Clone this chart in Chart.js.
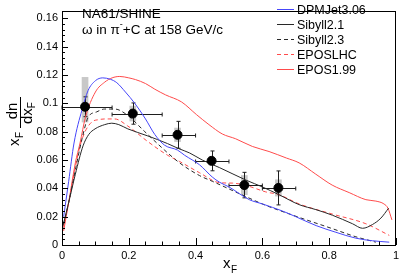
<!DOCTYPE html>
<html>
<head>
<meta charset="utf-8">
<script src="https://cdn.jsdelivr.net/npm/chart.js@4.4.1/dist/chart.umd.min.js"></script>
<style>
html, body { margin: 0; padding: 0; background: #fff; }
canvas { display: block; }
</style>
</head>
<body>
<canvas id="plot" width="403" height="274"></canvas>
<script>
// NA61/SHINE measured points
const binCenters = [0.069, 0.212, 0.346, 0.448, 0.546, 0.648];
const binLow = [0.0, 0.15, 0.30, 0.40, 0.50, 0.60];
const binHigh = [0.15, 0.30, 0.40, 0.50, 0.60, 0.70];
const na61Values = [0.0976, 0.0928, 0.0778, 0.0594, 0.0423, 0.0403];
const statErr = [0.007, 0.0075, 0.0095, 0.007, 0.009, 0.012];
const sysUp = [0.021, 0.0055, 0.005, 0.003, 0.007, 0.006];
const sysDown = [0.011, 0.0055, 0.005, 0.003, 0.007, 0.006];

// model curves
const dpmX = [0.005, 0.02, 0.036, 0.06, 0.078, 0.1, 0.122, 0.145, 0.164, 0.19, 0.218, 0.25, 0.278, 0.307, 0.346, 0.367, 0.412, 0.45, 0.472, 0.5, 0.561, 0.6, 0.66, 0.7, 0.761, 0.82, 0.88, 0.93, 0.98];
const dpmY = [0.02, 0.045, 0.072, 0.0955, 0.109, 0.116, 0.118, 0.117, 0.1146, 0.108, 0.1, 0.089, 0.078, 0.0705, 0.067, 0.0634, 0.0566, 0.048, 0.0443, 0.041, 0.032, 0.029, 0.024, 0.02, 0.0137, 0.009, 0.0048, 0.003, 0.002];

const sib21X = [0.003, 0.02, 0.04, 0.063, 0.08, 0.099, 0.128, 0.149, 0.17, 0.197, 0.257, 0.316, 0.35, 0.382, 0.42, 0.472, 0.552, 0.6, 0.65, 0.71, 0.76, 0.81, 0.87, 0.9, 0.93, 0.955, 0.978];
const sib21Y = [0.0136, 0.03, 0.05, 0.07, 0.078, 0.082, 0.085, 0.086, 0.085, 0.082, 0.077, 0.0716, 0.068, 0.065, 0.06, 0.0546, 0.0457, 0.041, 0.0355, 0.0285, 0.025, 0.021, 0.015, 0.0118, 0.0145, 0.019, 0.026];

const sib23X = [0.0, 0.02, 0.04, 0.06, 0.078, 0.104, 0.128, 0.158, 0.194, 0.248, 0.307, 0.352, 0.412, 0.45, 0.552, 0.61, 0.65, 0.71, 0.81, 0.88, 0.94];
const sib23Y = [0.01, 0.03, 0.053, 0.075, 0.09, 0.094, 0.096, 0.096, 0.092, 0.08, 0.067, 0.058, 0.049, 0.045, 0.034, 0.028, 0.0245, 0.0195, 0.0115, 0.0058, 0.002];

const eposLhcX = [0.0, 0.02, 0.04, 0.054, 0.069, 0.09, 0.11, 0.128, 0.158, 0.197, 0.257, 0.316, 0.352, 0.412, 0.472, 0.51, 0.552, 0.61, 0.65, 0.71, 0.81, 0.91, 0.98];
const eposLhcY = [0.008, 0.03, 0.055, 0.07, 0.08, 0.087, 0.0885, 0.089, 0.089, 0.084, 0.073, 0.0634, 0.059, 0.051, 0.044, 0.0437, 0.042, 0.0375, 0.0355, 0.029, 0.0218, 0.015, 0.0068];

const epos199X = [0.005, 0.02, 0.04, 0.054, 0.07, 0.1, 0.128, 0.15, 0.173, 0.2, 0.22, 0.25, 0.278, 0.31, 0.358, 0.403, 0.44, 0.48, 0.52, 0.57, 0.62, 0.672, 0.71, 0.76, 0.809, 0.86, 0.91, 0.94, 0.964, 0.976, 0.988];
const epos199Y = [0.01, 0.03, 0.058, 0.072, 0.09, 0.108, 0.115, 0.118, 0.119, 0.118, 0.1168, 0.114, 0.11, 0.106, 0.101, 0.092, 0.085, 0.0784, 0.075, 0.0696, 0.066, 0.0614, 0.058, 0.05, 0.0423, 0.037, 0.032, 0.031, 0.029, 0.026, 0.0177];

const yTicks = [0, 0.02, 0.04, 0.06, 0.08, 0.1, 0.12, 0.14, 0.16];
const xTicks = [0, 0.2, 0.4, 0.6, 0.8, 1];

const BLUE = 'rgb(70,70,250)';
const RED = 'rgb(255,75,75)';
const DARK = 'rgb(40,40,40)';
const FONT = '"Liberation Sans", Arial, sans-serif';

function pts(xs, ys) {
    return xs.map((x, i) => ({ x: x, y: ys[i] }));
}

function curve(label, xs, ys, color, dash) {
    return {
        type: 'line',
        label: label,
        data: pts(xs, ys),
        borderColor: color,
        borderWidth: 1,
        borderDash: dash || [],
        pointRadius: 0,
        fill: false,
        cubicInterpolationMode: 'monotone',
        order: 1
    };
}

const legendItems = [
    { label: 'DPMJet3.06', color: BLUE, dash: [] },
    { label: 'Sibyll2.1', color: DARK, dash: [] },
    { label: 'Sibyll2.3', color: DARK, dash: [4, 3] },
    { label: 'EPOSLHC', color: RED, dash: [4, 3] },
    { label: 'EPOS1.99', color: RED, dash: [] }
];

const rootStyle = {
    id: 'rootStyle',
    beforeDatasetsDraw(chart) {
        const ctx = chart.ctx;
        const xs = chart.scales.x, ys = chart.scales.y;
        ctx.save();
        // systematic boxes
        ctx.fillStyle = 'rgb(200,200,200)';
        binCenters.forEach((c, i) => {
            const x0 = xs.getPixelForValue(c - 0.01), x1 = xs.getPixelForValue(c + 0.01);
            const y0 = ys.getPixelForValue(na61Values[i] + sysUp[i]);
            const y1 = ys.getPixelForValue(na61Values[i] - sysDown[i]);
            ctx.fillRect(x0, y0, x1 - x0, y1 - y0);
        });
        // stat errors and bin widths
        ctx.strokeStyle = 'rgb(30,30,30)';
        ctx.lineWidth = 1;
        binCenters.forEach((c, i) => {
            const px = Math.round(xs.getPixelForValue(c)) + 0.5;
            const py = Math.round(ys.getPixelForValue(na61Values[i])) + 0.5;
            const xl = xs.getPixelForValue(binLow[i]), xr = xs.getPixelForValue(binHigh[i]);
            const yt = ys.getPixelForValue(na61Values[i] + statErr[i]);
            const yb = ys.getPixelForValue(na61Values[i] - statErr[i]);
            ctx.beginPath();
            ctx.moveTo(xl, py); ctx.lineTo(xr, py);
            ctx.moveTo(px, yt); ctx.lineTo(px, yb);
            ctx.moveTo(xl, py - 2); ctx.lineTo(xl, py + 2);
            ctx.moveTo(xr, py - 2); ctx.lineTo(xr, py + 2);
            ctx.moveTo(px - 2, yt); ctx.lineTo(px + 2, yt);
            ctx.moveTo(px - 2, yb); ctx.lineTo(px + 2, yb);
            ctx.stroke();
        });
        ctx.restore();
    },
    afterDraw(chart) {
        const ctx = chart.ctx;
        const a = chart.chartArea;
        const xs = chart.scales.x, ys = chart.scales.y;
        ctx.save();
        // frame
        ctx.strokeStyle = '#000';
        ctx.lineWidth = 1;
        ctx.strokeRect(Math.round(a.left) + 0.5, Math.round(a.top) + 0.5,
            Math.round(a.right - a.left) - 1, Math.round(a.bottom - a.top));
        // ticks inside the frame
        ctx.beginPath();
        for (let v = 0; v <= 0.1601; v += 0.004) {
            const y = Math.round(ys.getPixelForValue(v)) + 0.5;
            const major = Math.abs(v / 0.02 - Math.round(v / 0.02)) < 1e-6;
            ctx.moveTo(a.left, y); ctx.lineTo(a.left + (major ? 6 : 3), y);
        }
        for (let v = 0; v <= 1.0001; v += 0.05) {
            const x = Math.round(xs.getPixelForValue(v)) + 0.5;
            const major = Math.abs(v / 0.2 - Math.round(v / 0.2)) < 1e-6;
            ctx.moveTo(x, a.bottom); ctx.lineTo(x, a.bottom - (major ? 7 : 3.5));
        }
        ctx.stroke();

        // header text
        ctx.fillStyle = '#000';
        ctx.textBaseline = 'alphabetic';
        ctx.textAlign = 'left';
        ctx.font = '13.5px ' + FONT;
        ctx.fillText('NA61/SHINE', 82, 18);
        ctx.fillText('\u03c9 in \u03c0', 82, 34);
        let w = ctx.measureText('\u03c9 in \u03c0').width;
        ctx.font = '9px ' + FONT;
        ctx.fillText('-', 82 + w, 27);
        ctx.font = '13.5px ' + FONT;
        ctx.fillText('+C at 158 GeV/c', 82 + w + 3, 34);

        // legend
        ctx.font = '12.5px ' + FONT;
        legendItems.forEach((it, i) => {
            const y = 9 + i * 15;
            ctx.strokeStyle = it.color;
            ctx.setLineDash(it.dash);
            ctx.beginPath();
            ctx.moveTo(277, y + 0.5); ctx.lineTo(294, y + 0.5);
            ctx.stroke();
            ctx.setLineDash([]);
            ctx.fillStyle = '#000';
            ctx.fillText(it.label, 297, y + 5);
        });

        // x title
        ctx.font = '15px ' + FONT;
        ctx.fillText('x', 223, 268);
        ctx.font = '10px ' + FONT;
        ctx.fillText('F', 231, 273);

        // y title (rotated)
        ctx.translate(0, 0);
        ctx.save();
        ctx.translate(19, 146);
        ctx.rotate(-Math.PI / 2);
        ctx.font = '15px ' + FONT;
        ctx.fillText('x', 0, 0);
        ctx.font = '10px ' + FONT;
        ctx.fillText('F', 8, 4);
        ctx.restore();

        ctx.save();
        ctx.translate(0, 0);
        ctx.rotate(-Math.PI / 2);
        // rotated coords: u = -screenY, v = screenX
        ctx.strokeStyle = '#000';
        ctx.beginPath();
        ctx.moveTo(-128, 20.5); ctx.lineTo(-97, 20.5);
        ctx.stroke();
        ctx.font = '15px ' + FONT;
        ctx.textAlign = 'center';
        ctx.fillText('dn', -111, 17);
        ctx.textAlign = 'left';
        const dxw = ctx.measureText('dx').width;
        ctx.fillText('dx', -124, 32);
        ctx.font = '10px ' + FONT;
        ctx.fillText('F', -124 + dxw, 35);
        ctx.restore();

        ctx.restore();
    }
};

new Chart(document.getElementById('plot').getContext('2d'), {
    type: 'scatter',
    data: {
        datasets: [
            {
                label: 'NA61/SHINE',
                data: pts(binCenters, na61Values),
                backgroundColor: '#000',
                borderColor: '#000',
                pointRadius: 4.5,
                pointHoverRadius: 4.5,
                order: 0
            },
            curve('DPMJet3.06', dpmX, dpmY, BLUE),
            curve('Sibyll2.1', sib21X, sib21Y, DARK),
            curve('Sibyll2.3', sib23X, sib23Y, DARK, [4, 3]),
            curve('EPOSLHC', eposLhcX, eposLhcY, RED, [4, 3]),
            curve('EPOS1.99', epos199X, epos199Y, RED)
        ]
    },
    options: {
        responsive: false,
        animation: false,
        devicePixelRatio: 1,
        layout: { padding: { top: 1, right: 4, left: 0, bottom: 0 } },
        plugins: { legend: { display: false }, tooltip: { enabled: false } },
        scales: {
            x: {
                type: 'linear',
                min: 0,
                max: 1,
                afterFit: s => { s.height = 29; },
                afterBuildTicks: s => { s.ticks = xTicks.map(v => ({ value: v })); },
                grid: { display: false, drawTicks: false },
                border: { display: false },
                ticks: {
                    padding: 4,
                    maxRotation: 0,
                    color: '#000',
                    font: { family: FONT, size: 11 },
                    callback: v => String(v)
                }
            },
            y: {
                type: 'linear',
                min: 0,
                max: 0.1655,
                afterFit: s => { s.width = 62; },
                afterBuildTicks: s => { s.ticks = yTicks.map(v => ({ value: v })); },
                grid: { display: false, drawTicks: false },
                border: { display: false },
                ticks: {
                    padding: 4,
                    color: '#000',
                    font: { family: FONT, size: 11 },
                    callback: v => String(Math.round(v * 100) / 100)
                }
            }
        }
    },
    plugins: [rootStyle]
});
</script>
</body>
</html>
